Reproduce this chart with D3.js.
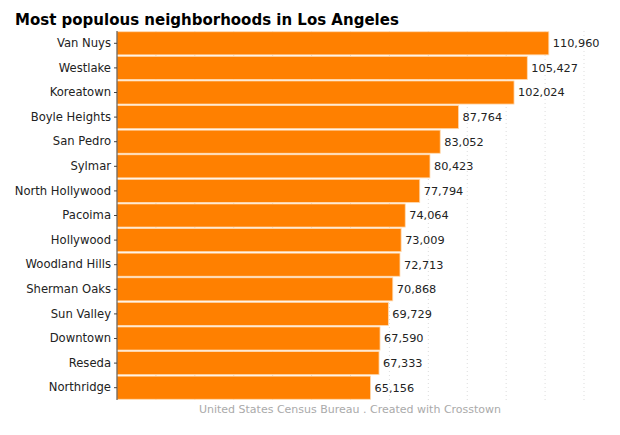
<!DOCTYPE html>
<html><head><meta charset="utf-8">
<script src="https://cdn.jsdelivr.net/npm/d3@7"></script>
<style>body{margin:0;background:#fff;font-family:"DejaVu Sans",sans-serif}</style>
</head><body><svg id="c" width="620" height="435"></svg>
<script>
const names = ['Van Nuys','Westlake','Koreatown','Boyle Heights','San Pedro','Sylmar','North Hollywood','Pacoima','Hollywood','Woodland Hills','Sherman Oaks','Sun Valley','Downtown','Reseda','Northridge'];
const population = [110960,105427,102024,87764,83052,80423,77794,74064,73009,72713,70868,69729,67590,67333,65156];
const gridTicks = d3.range(10000, 130000, 10000);

const svg = d3.select('#c');
const x = d3.scaleLinear().domain([0, 120000]).range([117, 584]);
const y = d3.scaleBand().domain(names).range([31, 400]).paddingInner(0.06).paddingOuter(0.03);

svg.append('g').selectAll('line').data(gridTicks).join('line')
  .attr('x1', d => x(d)).attr('x2', d => x(d)).attr('y1', 31).attr('y2', 400)
  .attr('stroke', '#ddd').attr('stroke-dasharray', '1,3');

svg.append('g').selectAll('rect').data(names).join('rect')
  .attr('x', x(0)).attr('y', d => y(d)).attr('height', y.bandwidth())
  .attr('width', (d, i) => x(population[i]) - x(0))
  .attr('fill', '#ff8000').attr('stroke', '#ffd9b0').attr('stroke-width', 0.8);

svg.append('g').selectAll('text').data(names).join('text')
  .attr('x', (d, i) => x(population[i]) + 4).attr('y', d => y(d) + y.bandwidth() / 2)
  .attr('dy', '0.35em').attr('font-size', 11.3).attr('fill', '#222')
  .text((d, i) => d3.format(',')(population[i]));

const ax = svg.append('g').attr('transform', `translate(${x(0)},0)`)
  .call(d3.axisLeft(y).tickSize(3).tickPadding(3));
ax.select('.domain').attr('stroke', '#444').attr('d', 'M0,31V400');
ax.selectAll('.tick line').attr('stroke', '#444');
ax.selectAll('text').attr('font-size', 11.6).attr('fill', '#222').attr('font-family', '"DejaVu Sans",sans-serif');

svg.append('text').attr('x', 15).attr('y', 25).attr('font-size', 15).attr('font-weight', 'bold')
  .text('Most populous neighborhoods in Los Angeles');
svg.append('text').attr('x', 350).attr('y', 413).attr('text-anchor', 'middle')
  .attr('font-size', 11).attr('fill', '#aaa')
  .text('United States Census Bureau . Created with Crosstown');
</script></body></html>
